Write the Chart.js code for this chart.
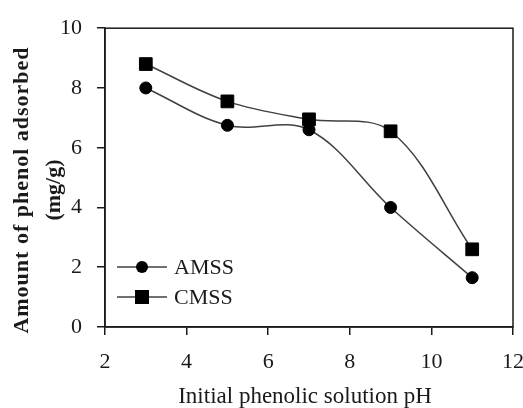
<!DOCTYPE html>
<html>
<head>
<meta charset="utf-8">
<script src="https://cdn.jsdelivr.net/npm/chart.js@4/dist/chart.umd.min.js"></script>
<style>
  html, body { margin: 0; padding: 0; background: #fff; }
  #wrap { width: 523px; height: 408px; }
</style>
</head>
<body>
<div id="wrap"><canvas id="chart" width="523" height="408"></canvas></div>
<script>
// ── DATA ──
const phValues = [3, 5, 7, 9, 11];
const amss     = [8.0, 6.75, 6.6, 4.0, 1.65];
const cmss     = [8.8, 7.55, 6.95, 6.55, 2.6];
const seriesNames = ['AMSS', 'CMSS'];
const xTitle = 'Initial phenolic solution pH';
const yTitle = ['Amount of phenol adsorbed', '(mg/g)'];

const ink = '#1a1a1a';
const lineInk = '#404040';
const serif = "'Liberation Serif', 'Times New Roman', serif";

const toPoints = (ys) => phValues.map((x, i) => ({ x, y: ys[i] }));

// frame, legend and axis titles
const decorations = {
  id: 'decorations',
  afterDraw(chart) {
    const { ctx, chartArea: a } = chart;
    ctx.save();

    // box around plot
    ctx.strokeStyle = ink;
    ctx.lineWidth = 1.5;
    ctx.strokeRect(a.left, a.top, a.right - a.left, a.bottom - a.top);

    // legend (lower left, inside plot)
    const styles = ['circle', 'rect'];
    ctx.font = '22px ' + serif;
    ctx.textBaseline = 'middle';
    seriesNames.forEach((name, i) => {
      const y = a.bottom - 60 + i * 30;
      const x0 = a.left + 12, x1 = a.left + 62, xm = a.left + 37;
      ctx.strokeStyle = lineInk;
      ctx.lineWidth = 1.5;
      ctx.beginPath(); ctx.moveTo(x0, y); ctx.lineTo(x1, y); ctx.stroke();
      ctx.fillStyle = '#000';
      if (styles[i] === 'circle') {
        ctx.beginPath(); ctx.arc(xm, y, 6, 0, Math.PI * 2); ctx.fill();
      } else {
        ctx.fillRect(xm - 7, y - 7, 14, 14);
      }
      ctx.fillStyle = ink;
      ctx.textAlign = 'left';
      ctx.fillText(name, a.left + 69, y + 1);
    });

    // x title
    ctx.font = '23px ' + serif;
    ctx.textAlign = 'center';
    ctx.textBaseline = 'alphabetic';
    ctx.fillText(xTitle, (a.left + a.right) / 2 - 4, 403);

    // y title (rotated, two lines)
    ctx.translate(0, 190);
    ctx.rotate(-Math.PI / 2);
    ctx.font = 'bold 22px ' + serif;
    ctx.textBaseline = 'alphabetic';
    ctx.letterSpacing = '1px';
    ctx.fillText(yTitle[0], 0, 28);
    ctx.letterSpacing = '0px';
    ctx.fillText(yTitle[1], 0, 60);

    ctx.restore();
  }
};

new Chart(document.getElementById('chart'), {
  type: 'line',
  data: {
    datasets: [
      {
        label: seriesNames[0],
        data: toPoints(amss),
        borderColor: lineInk,
        borderWidth: 1.5,
        pointStyle: 'circle',
        pointRadius: 6,
        pointBackgroundColor: '#000',
        pointBorderColor: '#000',
        pointBorderWidth: 1,
        tension: 0.35,
        fill: false
      },
      {
        label: seriesNames[1],
        data: toPoints(cmss),
        borderColor: lineInk,
        borderWidth: 1.5,
        pointStyle: 'rect',
        pointRadius: 9,
        pointBackgroundColor: '#000',
        pointBorderColor: '#000',
        pointBorderWidth: 1,
        tension: 0.35,
        fill: false
      }
    ]
  },
  options: {
    responsive: false,
    animation: false,
    layout: { padding: { top: 24, right: 10, left: 0, bottom: 0 } },
    plugins: {
      legend: { display: false },
      tooltip: { enabled: false }
    },
    scales: {
      x: {
        type: 'linear',
        min: 2, max: 12,
        border: { display: true, color: ink, width: 1.5 },
        grid: { drawOnChartArea: false, drawTicks: true, tickLength: 8, color: ink, lineWidth: 1.5 },
        ticks: { stepSize: 2, color: ink, padding: 14, font: { family: serif, size: 22 }, maxRotation: 0 },
        afterFit: (s) => { s.height = 81; s.paddingLeft = 0; s.paddingRight = 0; }
      },
      y: {
        min: 0, max: 10,
        border: { display: true, color: ink, width: 1.5 },
        grid: { drawOnChartArea: false, drawTicks: true, tickLength: 8, color: ink, lineWidth: 1.5 },
        ticks: { stepSize: 2, color: ink, padding: 15, font: { family: serif, size: 22 } },
        afterFit: (s) => { s.width = 105; }
      }
    }
  },
  plugins: [decorations]
});
</script>
</body>
</html>
